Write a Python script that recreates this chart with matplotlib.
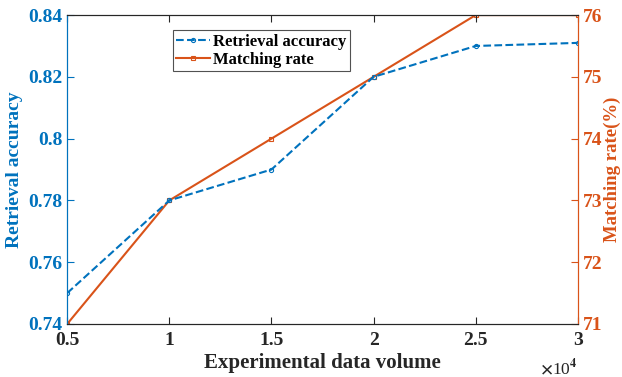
import numpy as np
import matplotlib
matplotlib.use("Agg")
import matplotlib.pyplot as plt

# data
data_volume = [5000, 10000, 15000, 20000, 25000, 30000]
retrieval_accuracy = [0.75, 0.78, 0.79, 0.82, 0.83, 0.831]
matching_rate = [71, 73, 74, 75, 76, 76]

blue = "#0072BD"
orange = "#D95319"

plt.rcParams["font.family"] = ["Liberation Serif", "DejaVu Serif"]
plt.rcParams["font.weight"] = "bold"
plt.rcParams["mathtext.fontset"] = "stix"

fig = plt.figure(figsize=(6.22, 3.77), dpi=100)
ax = fig.add_axes([0.108, 0.1406, 0.821, 0.8194])
ax2 = ax.twinx()

l1, = ax.plot(data_volume, retrieval_accuracy, "--o", color=blue, lw=1.5,
              markersize=3, markerfacecolor="none", markeredgewidth=0.8,
              label="Retrieval accuracy")
l2, = ax2.plot(data_volume, matching_rate, "-s", color=orange, lw=1.5,
               markersize=3, markerfacecolor="none", markeredgewidth=0.8,
               label="Matching rate")

ax.set_xlim(5000, 30000)
ax.set_ylim(0.74, 0.84)
ax2.set_ylim(71, 76)
ax.set_xticks(data_volume)
ax.set_xticklabels(["0.5", "1", "1.5", "2", "2.5", "3"])
ax.set_yticks([0.74, 0.76, 0.78, 0.80, 0.82, 0.84])
ax.set_yticklabels(["0.74", "0.76", "0.78", "0.8", "0.82", "0.84"])
ax2.set_yticks([71, 72, 73, 74, 75, 76])

ax.tick_params(axis="x", direction="in", top=True, labelsize=14, colors="#262626", length=5, pad=6)
ax.tick_params(axis="y", direction="in", labelsize=14, colors=blue, length=5)
ax2.tick_params(axis="y", direction="in", labelsize=14, colors=orange, length=5)

for a in (ax, ax2):
    a.spines["top"].set_color("#262626")
    a.spines["bottom"].set_color("#262626")
    a.spines["left"].set_color(blue)
    a.spines["right"].set_color(orange)

ax.set_xlabel("Experimental data volume", fontsize=15, fontweight="bold", color="#262626", labelpad=3)
ax.set_ylabel("Retrieval accuracy", fontsize=14, fontweight="bold", color=blue, labelpad=4)
ax2.set_ylabel("Matching rate(%)", fontsize=13.5, fontweight="bold", color=orange, labelpad=1)

ax.text(1.0, -0.108, r"$\times$10$^{4}$", transform=ax.transAxes, ha="right", va="top",
        fontsize=12.5, color="#262626", fontweight="normal")

leg = ax.legend([l1, l2], ["Retrieval accuracy", "Matching rate"], loc="upper left",
                bbox_to_anchor=(0.207, 0.951), fontsize=12, frameon=True, fancybox=False,
                edgecolor="#262626", handlelength=2, handletextpad=0.2,
                borderpad=0.2, labelspacing=0.15, borderaxespad=0)
leg.get_frame().set_linewidth(0.8)
ax.set_zorder(ax2.get_zorder() + 1)
ax.patch.set_visible(False)

fig.savefig("out.png", dpi=100)
